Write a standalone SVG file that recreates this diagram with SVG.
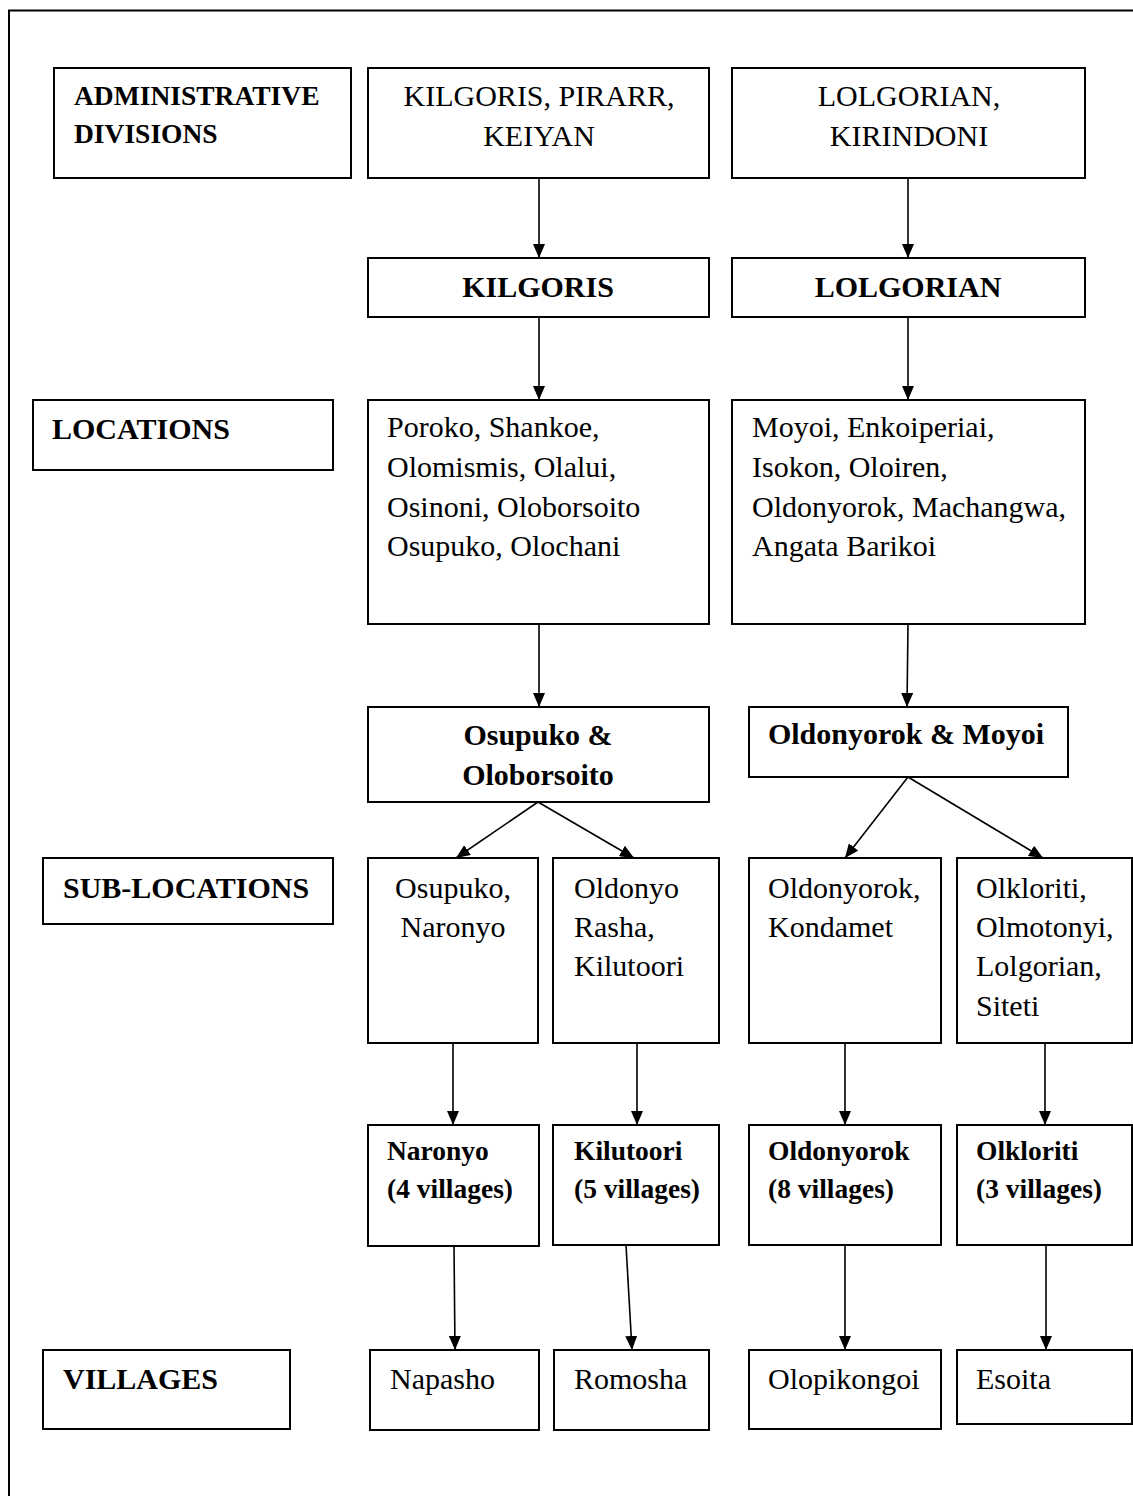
<svg xmlns="http://www.w3.org/2000/svg" width="1133" height="1496" viewBox="0 0 1133 1496">
<style>
.box{fill:#fff;stroke:#000;stroke-width:2}
.t{font-family:"Liberation Serif","Times New Roman",serif;font-size:30px;fill:#000}
.b{font-weight:bold}
.s{font-size:27.5px}
.c{text-anchor:middle}
.con line{stroke:#000;stroke-width:1.6;fill:none;marker-end:url(#ah)}
</style>
<defs>
<marker id="ah" markerUnits="userSpaceOnUse" markerWidth="14" markerHeight="12" refX="14" refY="6" orient="auto">
<path d="M0,0 L14,6 L0,12 z" fill="#000"/>
</marker>
</defs>
<rect width="1133" height="1496" fill="#fff"/>
<path d="M9,1496 V10.5 H1133" fill="none" stroke="#000" stroke-width="2"/>

<g id="admin-label"><rect class="box" x="54" y="68" width="297" height="110"/>
<text class="t b s" x="74" y="105">ADMINISTRATIVE</text><text class="t b s" x="74" y="143">DIVISIONS</text></g>
<g id="kilgoris-pirarr-keiyan"><rect class="box" x="368" y="68" width="341" height="110"/>
<text class="t c" x="539" y="106">KILGORIS, PIRARR,</text><text class="t c" x="539" y="146">KEIYAN</text></g>
<g id="lolgorian-kirindoni"><rect class="box" x="732" y="68" width="353" height="110"/>
<text class="t c" x="909" y="106">LOLGORIAN,</text><text class="t c" x="909" y="146">KIRINDONI</text></g>

<g id="kilgoris"><rect class="box" x="368" y="258" width="341" height="59"/>
<text class="t b c" x="538" y="297">KILGORIS</text></g>
<g id="lolgorian"><rect class="box" x="732" y="258" width="353" height="59"/>
<text class="t b c" x="908" y="297">LOLGORIAN</text></g>

<g id="locations-label"><rect class="box" x="33" y="400" width="300" height="70"/>
<text class="t b" x="52" y="439">LOCATIONS</text></g>
<g id="kilgoris-locations"><rect class="box" x="368" y="400" width="341" height="224"/>
<text class="t" x="387" y="437">Poroko, Shankoe,</text>
<text class="t" x="387" y="477">Olomismis, Olalui,</text>
<text class="t" x="387" y="517">Osinoni, Oloborsoito</text>
<text class="t" x="387" y="556">Osupuko, Olochani</text></g>
<g id="lolgorian-locations"><rect class="box" x="732" y="400" width="353" height="224"/>
<text class="t" x="752" y="437">Moyoi, Enkoiperiai,</text>
<text class="t" x="752" y="477">Isokon, Oloiren,</text>
<text class="t" x="752" y="517">Oldonyorok, Machangwa,</text>
<text class="t" x="752" y="556">Angata Barikoi</text></g>

<g id="osupuko-oloborsoito"><rect class="box" x="368" y="707" width="341" height="95"/>
<text class="t b c" x="538" y="745">Osupuko &amp;</text><text class="t b c" x="538" y="785">Oloborsoito</text></g>
<g id="oldonyorok-moyoi"><rect class="box" x="749" y="707" width="319" height="70"/>
<text class="t b c" x="906" y="744">Oldonyorok &amp; Moyoi</text></g>

<g id="sublocations-label"><rect class="box" x="43" y="858" width="290" height="66"/>
<text class="t b" x="63" y="898">SUB-LOCATIONS</text></g>
<g id="osupuko-naronyo"><rect class="box" x="368" y="858" width="170" height="185"/>
<text class="t c" x="453" y="898">Osupuko,</text><text class="t c" x="453" y="937">Naronyo</text></g>
<g id="oldonyo-rasha-kilutoori"><rect class="box" x="553" y="858" width="166" height="185"/>
<text class="t" x="574" y="898">Oldonyo</text><text class="t" x="574" y="937">Rasha,</text><text class="t" x="574" y="976">Kilutoori</text></g>
<g id="oldonyorok-kondamet"><rect class="box" x="749" y="858" width="192" height="185"/>
<text class="t" x="768" y="898">Oldonyorok,</text><text class="t" x="768" y="937">Kondamet</text></g>
<g id="olkloriti-siteti"><rect class="box" x="957" y="858" width="175" height="185"/>
<text class="t" x="976" y="898">Olkloriti,</text><text class="t" x="976" y="937">Olmotonyi,</text><text class="t" x="976" y="976">Lolgorian,</text><text class="t" x="976" y="1016">Siteti</text></g>

<g id="naronyo-villages"><rect class="box" x="368" y="1125" width="171" height="121"/>
<text class="t b s" x="387" y="1160">Naronyo</text><text class="t b s" x="387" y="1198">(4 villages)</text></g>
<g id="kilutoori-villages"><rect class="box" x="553" y="1125" width="166" height="120"/>
<text class="t b s" x="574" y="1160">Kilutoori</text><text class="t b s" x="574" y="1198">(5 villages)</text></g>
<g id="oldonyorok-villages"><rect class="box" x="749" y="1125" width="192" height="120"/>
<text class="t b s" x="768" y="1160">Oldonyorok</text><text class="t b s" x="768" y="1198">(8 villages)</text></g>
<g id="olkloriti-villages"><rect class="box" x="957" y="1125" width="175" height="120"/>
<text class="t b s" x="976" y="1160">Olkloriti</text><text class="t b s" x="976" y="1198">(3 villages)</text></g>

<g id="villages-label"><rect class="box" x="43" y="1350" width="247" height="79"/>
<text class="t b" x="63" y="1389">VILLAGES</text></g>
<g id="napasho"><rect class="box" x="370" y="1350" width="169" height="80"/>
<text class="t" x="390" y="1389">Napasho</text></g>
<g id="romosha"><rect class="box" x="554" y="1350" width="155" height="80"/>
<text class="t" x="574" y="1389">Romosha</text></g>
<g id="olopikongoi"><rect class="box" x="749" y="1350" width="192" height="79"/>
<text class="t" x="768" y="1389">Olopikongoi</text></g>
<g id="esoita"><rect class="box" x="957" y="1350" width="175" height="74"/>
<text class="t" x="976" y="1389">Esoita</text></g>

<g id="connectors" class="con">
<line x1="539" y1="178" x2="539" y2="258"/>
<line x1="908" y1="178" x2="908" y2="258"/>
<line x1="539" y1="317" x2="539" y2="400"/>
<line x1="908" y1="317" x2="908" y2="400"/>
<line x1="539" y1="624" x2="539" y2="707"/>
<line x1="908" y1="624" x2="907" y2="707"/>
<line x1="538" y1="802" x2="456" y2="858"/>
<line x1="538" y1="802" x2="634" y2="858"/>
<line x1="908" y1="777" x2="845" y2="858"/>
<line x1="908" y1="777" x2="1043" y2="858"/>
<line x1="453" y1="1043" x2="453" y2="1125"/>
<line x1="637" y1="1043" x2="637" y2="1125"/>
<line x1="845" y1="1043" x2="845" y2="1125"/>
<line x1="1045" y1="1043" x2="1045" y2="1125"/>
<line x1="454" y1="1246" x2="455" y2="1350"/>
<line x1="626" y1="1245" x2="632" y2="1350"/>
<line x1="845" y1="1245" x2="845" y2="1350"/>
<line x1="1046" y1="1245" x2="1046" y2="1350"/>
</g>
</svg>
